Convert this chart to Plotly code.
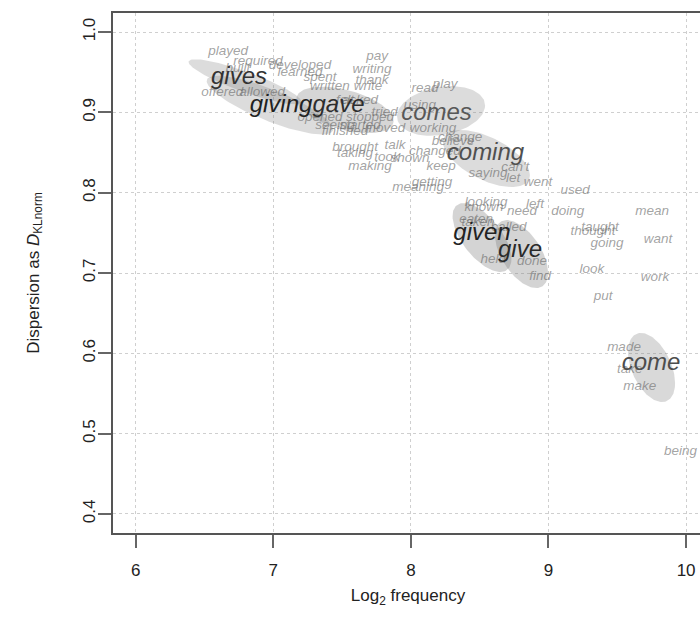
import numpy as np
import plotly.graph_objects as go

# ---- small (gray) words: label, log2 frequency, dispersion ----
small_words = ["played", "required", "built", "developed", "pay", "writing", "thank", "write",
               "read", "play", "written", "felt", "using", "seeing", "brought", "taking",
               "making", "talk", "took", "shown", "changed", "working", "believe", "change",
               "keep", "saying", "can't", "let", "went", "meaning", "getting", "used",
               "looking", "known", "need", "left", "doing", "mean", "eaten", "taken",
               "called", "thought", "taught", "going", "want", "held", "done", "find",
               "look", "work", "put", "made", "take", "make", "being",
               "offered", "allowed", "learned", "spent", "started", "finished", "moved",
               "stopped", "opened", "asked", "tried"]
small_x = [6.671, 6.889, 6.743, 7.194, 7.754, 7.718, 7.718, 7.688,
           8.102, 8.248, 7.412, 7.521, 8.066, 7.450, 7.594, 7.594,
           7.703, 7.885, 7.827, 7.994, 8.175, 8.161, 8.307, 8.358,
           8.219, 8.561, 8.758, 8.743, 8.924, 8.052, 8.154, 9.193,
           8.546, 8.531, 8.807, 8.902, 9.141, 9.753, 8.474, 8.488,
           8.713, 9.324, 9.375, 9.425, 9.797, 8.598, 8.881, 8.939,
           9.316, 9.774, 9.397, 9.549, 9.591, 9.664, 9.960,
           6.629, 6.919, 7.194, 7.340, 7.632, 7.521, 7.812,
           7.703, 7.340, 7.630, 7.810]
small_y = [0.975, 0.963, 0.955, 0.958, 0.970, 0.953, 0.940, 0.932,
           0.929, 0.935, 0.932, 0.915, 0.908, 0.884, 0.856, 0.849,
           0.833, 0.858, 0.844, 0.843, 0.851, 0.880, 0.863, 0.869,
           0.832, 0.824, 0.831, 0.817, 0.812, 0.806, 0.812, 0.803,
           0.788, 0.782, 0.777, 0.785, 0.776, 0.776, 0.767, 0.763,
           0.756, 0.752, 0.756, 0.736, 0.741, 0.717, 0.714, 0.695,
           0.704, 0.694, 0.670, 0.607, 0.580, 0.559, 0.477,
           0.925, 0.924, 0.949, 0.943, 0.884, 0.876, 0.880,
           0.893, 0.893, 0.915, 0.900]

# ---- highlighted forms of GIVE / COME ----
big_words = ["gives", "giving", "gave", "comes", "coming", "given", "give", "come"]
big_x = [6.751, 7.056, 7.474, 8.186, 8.542, 8.517, 8.793, 9.745]
big_y = [0.9427, 0.9079, 0.9079, 0.898, 0.848, 0.7485, 0.7274, 0.5867]
big_colors = ["#333333", "#222222", "#2e2e2e", "#585858", "#505050", "#222222", "#2a2a2a", "#4d4d4d"]

# ---- spread ellipses: centre, sd in x, sd in y, correlation ----
ell_names = ["gives", "giving", "gave", "comes", "coming", "given", "give", "come"]
ell_cx = [6.794, 6.976, 7.521, 8.219, 8.549, 8.517, 8.804, 9.749]
ell_cy = [0.938, 0.909, 0.903, 0.9017, 0.8425, 0.7442, 0.7236, 0.5823]
ell_rx = [0.41, 0.46, 0.353, 0.32, 0.316, 0.214, 0.193, 0.171]
ell_ry = [0.0281, 0.0366, 0.029, 0.031, 0.0355, 0.0429, 0.0423, 0.043]
ell_rho = [-0.88, -0.82, -0.47, 0.22, -0.58, -0.62, -0.55, -0.45]
ell_alpha = [0.28, 0.28, 0.32, 0.28, 0.28, 0.34, 0.34, 0.3]

x_ticks = [6, 7, 8, 9, 10]
y_ticks = [0.4, 0.5, 0.6, 0.7, 0.8, 0.9, 1.0]
y_ticktext = ["0.4", "0.5", "0.6", "0.7", "0.8", "0.9", "1.0"]

FONT = "Liberation Sans, Arial, Helvetica, sans-serif"

fig = go.Figure()

t = np.linspace(0, 2 * np.pi, 120)
for cx, cy, rx, ry, rho, a in zip(ell_cx, ell_cy, ell_rx, ell_ry, ell_rho, ell_alpha):
    ex = cx + rx * np.cos(t)
    ey = cy + ry * (rho * np.cos(t) + np.sqrt(1 - rho ** 2) * np.sin(t))
    fig.add_trace(go.Scatter(x=ex, y=ey, mode="lines", fill="toself",
                             fillcolor=f"rgba(128,128,128,{a})",
                             line=dict(width=0), hoverinfo="skip", showlegend=False))

fig.add_trace(go.Scatter(x=small_x, y=small_y, mode="text", text=small_words,
                         textposition="middle center", cliponaxis=False,
                         textfont=dict(family=FONT, size=13.5, color="rgba(105,105,105,0.62)",
                                       style="italic"),
                         showlegend=False, hoverinfo="skip"))

fig.add_trace(go.Scatter(x=big_x, y=big_y, mode="text", text=big_words,
                         textposition="middle center", cliponaxis=False,
                         textfont=dict(family=FONT, size=24, color=big_colors, style="italic"),
                         showlegend=False, hoverinfo="skip"))

axis_common = dict(showgrid=True, gridcolor="#cfcfcf", griddash="dot", gridwidth=1,
                   zeroline=False, ticks="outside", ticklen=13, tickwidth=1.5,
                   tickcolor="#666666", showline=True, linecolor="#555555", linewidth=1.5,
                   automargin=False,
                   tickfont=dict(family=FONT, size=17, color="#222222"))

# figure is a little wider than the window: the plot box continues past the right edge
fig.update_layout(
    width=703, height=627,
    margin=dict(l=113, r=0, t=13, b=94),
    paper_bgcolor="white", plot_bgcolor="white",
    font=dict(family=FONT, color="#222222"),
    xaxis=dict(range=[5.835, 10.123], tickvals=x_ticks, mirror=True,
               ticklabelstandoff=8,
               title=dict(text="Log<sub>2</sub> frequency", font=dict(size=17, family=FONT),
                          standoff=10),
               **axis_common),
    yaxis=dict(range=[0.3763, 1.0237], tickvals=y_ticks, ticktext=y_ticktext,
               tickangle=-90, ticklabelstandoff=-4,
               title=dict(text="Dispersion as <i>D</i><sub>KLnorm</sub>",
                          font=dict(size=17, family=FONT), standoff=37),
               **axis_common),
)

# remove the default page margin so the figure sits at the window's top-left corner
fig.write_html("out.html", config={"displayModeBar": False},
               post_script="document.body.style.margin='0';document.body.style.overflow='hidden';")
